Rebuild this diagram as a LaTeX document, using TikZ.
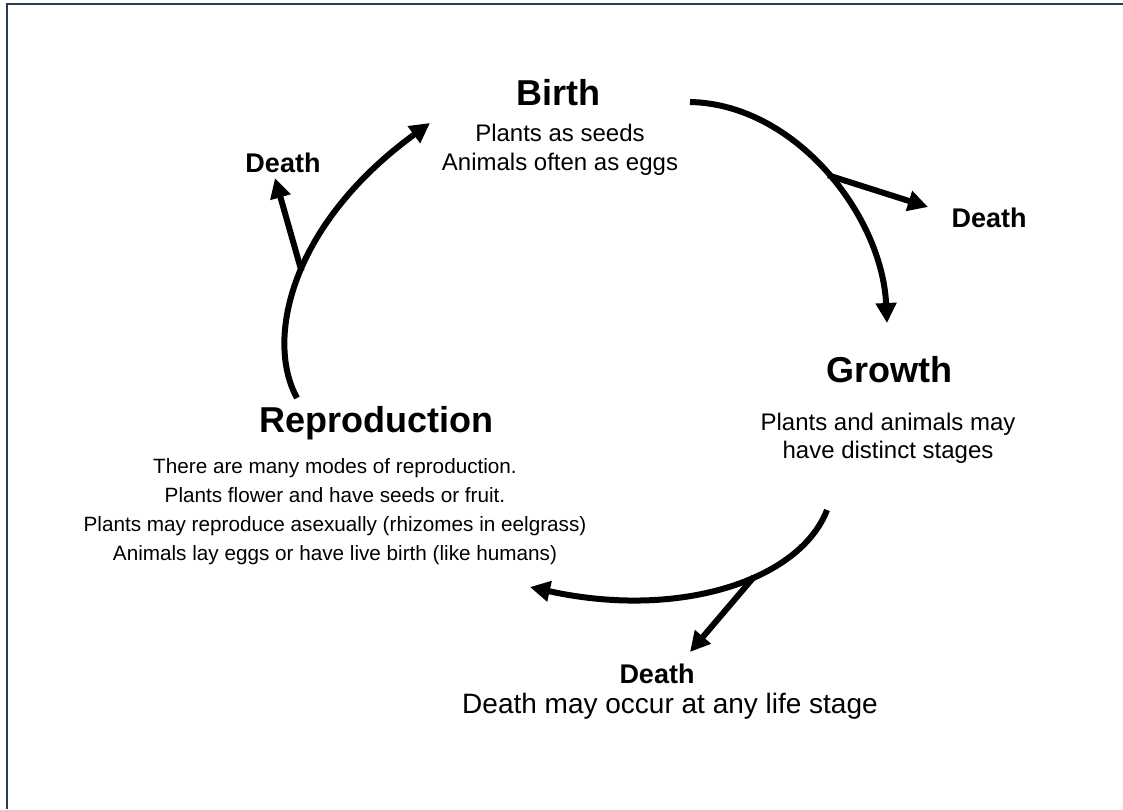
\documentclass[tikz,border=0pt]{standalone}
\usepackage{fontspec}
\setmainfont{Liberation Sans}
\usepackage{xcolor}
\usetikzlibrary{positioning,arrows.meta}
\definecolor{framenavy}{HTML}{2B3A55}

\tikzset{
  head/.style={font=\fontsize{36}{43}\selectfont\bfseries,anchor=base,inner sep=0pt},
  body/.style={font=\fontsize{24}{29}\selectfont,anchor=base,inner sep=0pt},
  smallbody/.style={font=\fontsize{20.7}{29}\selectfont,anchor=base,inner sep=0pt},
  deathlbl/.style={font=\fontsize{27}{32}\selectfont\bfseries,anchor=base,inner sep=0pt},
  lifearrow/.style={line width=6pt,-{Triangle[length=20pt,width=20pt]}},
}

\begin{document}
\begin{tikzpicture}[x=1pt,y=-1pt]
  \useasboundingbox (0,0) rectangle (1123,809);
  % frame, top and left only
  \draw[line width=2pt,framenavy] (7,809) -- (7,3.5) -- (1123,3.5);

  % stages
  \node[head] (birth) at (558,105) {Birth};
  \node[body] (birth1) at (560,141) {Plants as seeds};
  \node[body] (birth2) at (560,170) {Animals often as eggs};

  \node[head] (growth) at (889,382) {Growth};
  \node[body] (growth1) at (888,430) {Plants and animals may};
  \node[body] (growth2) at (888,458) {have distinct stages};

  \node[head] (repro) at (376,432) {Reproduction};
  \foreach \t [count=\i] in {There are many modes of reproduction.,
      Plants flower and have seeds or fruit.,
      Plants may reproduce asexually (rhizomes in eelgrass),
      Animals lay eggs or have live birth (like humans)} {
    \node[smallbody] (repro\i) at (335,473+29*\i-29) {\t};
  }

  \node[deathlbl] (deathL) at (283,172) {Death};
  \node[deathlbl] (deathR) at (989,227) {Death};
  \node[deathlbl] (deathB) at (657,683) {Death};
  \node[font=\fontsize{28}{34}\selectfont,anchor=base,inner sep=0pt] (deathnote) at (670,713) {Death may occur at any life stage};

  % arc ends and death tips
  \coordinate (b2g0) at (690,102);
  \coordinate (b2g1) at (887,323);
  \coordinate (g2r0) at (827,510);
  \coordinate (g2r1) at (530,587);
  \coordinate (r2b0) at (297,398);
  \coordinate (r2b1) at (430,123);
  \coordinate (tipR) at (928,207);
  \coordinate (tipB) at (690,652);
  \coordinate (tipL) at (275,178);

  % the cycle
  \draw[lifearrow] (b2g0) .. controls (795,104) and (882,215) .. coordinate[pos=0.51] (brR) (b2g1);
  \draw[lifearrow] (g2r0) .. controls (800,580) and (680,620) .. coordinate[pos=0.4] (brB) (g2r1);
  \draw[lifearrow] (r2b0) .. controls (265,340) and (290,225) .. coordinate[pos=0.52] (brL) (r2b1);

  % branches to death
  \draw[lifearrow] (brR) -- (tipR);
  \draw[lifearrow] (brB) -- (tipB);
  \draw[lifearrow] (brL) -- (tipL);
\end{tikzpicture}
\end{document}
